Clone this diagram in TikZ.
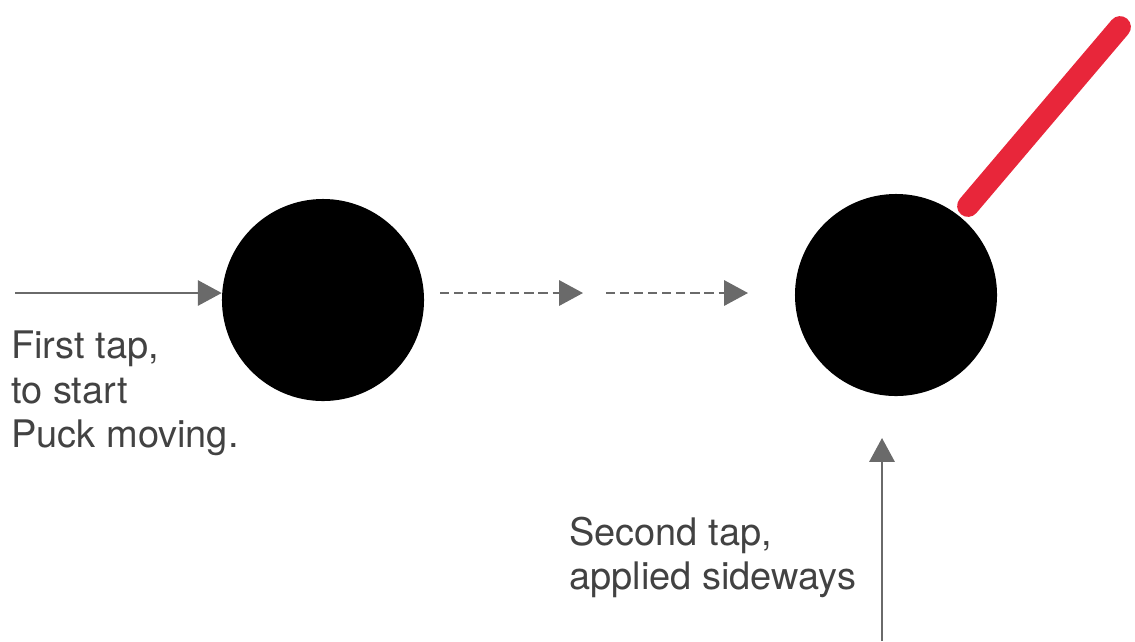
\documentclass[tikz,border=0pt]{standalone}
\usepackage{fontspec}
\setmainfont{TeX Gyre Heros}
\usetikzlibrary{arrows.meta}

\definecolor{tapgray}{HTML}{6A6A6A}
\definecolor{labelgray}{HTML}{424242}
\definecolor{cuered}{HTML}{E8263A}

\tikzset{
  puck/.style={circle, fill=black, inner sep=0pt, minimum size=5.05cm},
  tap/.style={draw=tapgray, line width=1.5pt, -{Triangle[length=17pt, width=18pt, fill=tapgray]}},
  slide/.style={tap, dash pattern=on 6.5pt off 3.5pt},
  cue/.style={draw=cuered, line width=15.5pt, line cap=round},
  note/.style={anchor=north west, inner sep=0pt, align=left, text=labelgray,
    font=\fontsize{27}{31.5}\selectfont}
}

\begin{document}
\begin{tikzpicture}[x=0.025cm, y=-0.025cm]
  \useasboundingbox (0,0) rectangle (1135,641);
  \node[puck] (p1) at (323,300) {};
  \node[puck] (p2) at (896,295) {};
  % tap points and free ends
  \coordinate (t1) at (15,293);
  \coordinate (s1) at (440,293);
  \coordinate (e1) at (583,293);
  \coordinate (s2) at (606,293);
  \coordinate (e2) at (748,293);
  \coordinate (t2) at (882,641);
  \coordinate (h2) at (882,438);
  \coordinate (c1) at (968,206);
  \coordinate (c2) at (1120,27);
  % arrows
  \draw[tap] (t1) -- (t1 -| p1.west);
  \draw[slide] (s1) -- (e1);
  \draw[slide] (s2) -- (e2);
  \draw[tap] (t2) -- (h2);
  \draw[cue] (c1) -- (c2);
  % labels
  \node[note] (n1) at (11,331) {First tap,\\to start\\Puck moving.};
  \node[note] (n2) at (569,517) {Second tap,\\applied sideways};
\end{tikzpicture}
\end{document}
